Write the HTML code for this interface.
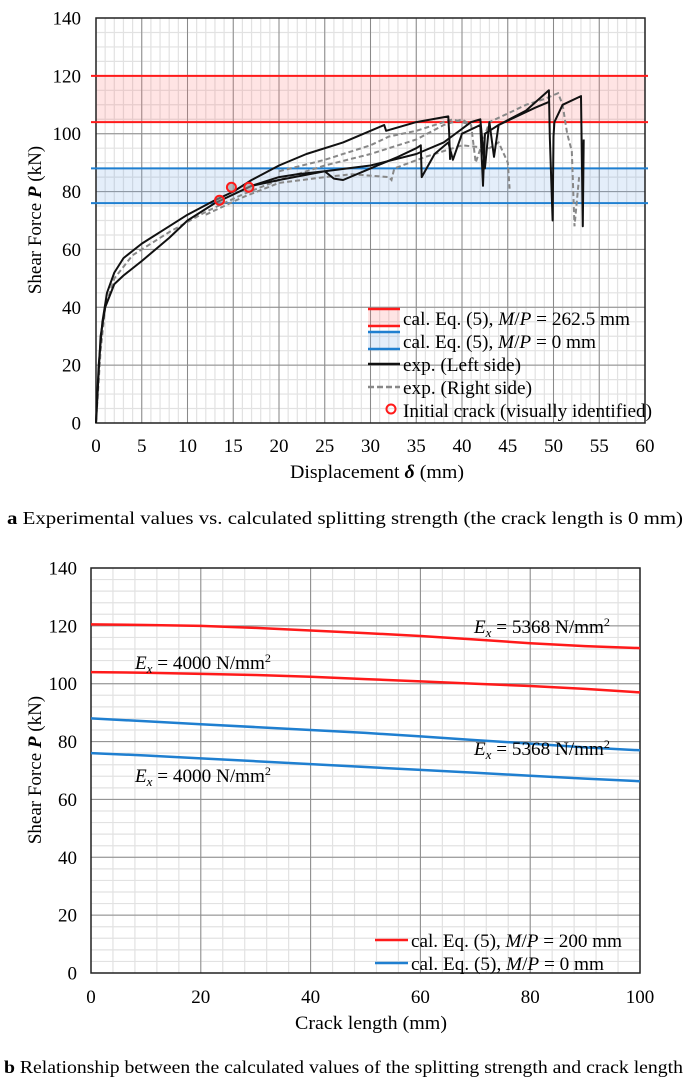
<!DOCTYPE html>
<html><head><meta charset="utf-8">
<style>
html,body{margin:0;padding:0;background:#fff;}
svg{display:block;font-family:"Liberation Serif",serif;}
</style></head>
<body>
<svg id="fig" width="685" height="1080" viewBox="0 0 685 1080" xmlns="http://www.w3.org/2000/svg">
<g id="chartA"></g>
<g id="chartB"></g>
<text x="7" y="524" font-size="17.5" textLength="676" lengthAdjust="spacingAndGlyphs"><tspan font-weight="bold">a</tspan> Experimental values vs. calculated splitting strength (the crack length is 0 mm)</text>
<text x="4" y="1073" font-size="17.5" textLength="679" lengthAdjust="spacingAndGlyphs"><tspan font-weight="bold">b</tspan> Relationship between the calculated values of the splitting strength and crack length</text>
</svg>
<script>
// ---- Chart A data ----
const aXTicks = [0,5,10,15,20,25,30,35,40,45,50,55,60];
const aYTicks = [0,20,40,60,80,100,120,140];
const aBandRed = [104,120];
const aBandBlue = [76,88];
const leftX1 = [0,0.3,0.7,1.2,2,3,5,8,10,13,15,17,20,23,27,30,31.5,31.7,35,38.5,38.6,38.7];
const leftY1 = [0,20,35,45,52,57,62,68,72,77,80,84,89,93,97,101,103,101,104,106,100,91];
const leftX2 = [17,20,22,25,26,27,30,33,35,35.5,35.6,37,38.5,39,40,42,42.3,42.5,44,47,49.5,49.6,49.9,50,50.1,51,53,53.2,53.3];
const leftY2 = [82,85,86,87,84.5,84,88,92,95,96,85,93,97,91,100,103,82,100,103,108,115,99,70,99,104,110,113,68,98];
const leftX3 = [0,0.5,1,2,3,5,8,10,13,17,20,25,30,35,38,41,42,42.5,43,43.5,44,46,48,49.5];
const leftY3 = [0,30,40,48,51,56,64,70,76,82,84,87,89,93,97,104,105,88,104,92,103,106,109,111];
const rightX1 = [0,0.5,1,2,4,8,12,16,20,25,30,35,38,40,41,41.5,43,45,47,49,50.5,51,51.5,52,52.3,52.8];
const rightY1 = [0,25,40,50,58,66,73,79,84,89,93,98,103,105,103,90,104,107,110,112,114,110,100,94,68,85];
const rightX2 = [12,16,20,25,28,32,32.3,32.6,36,40,43,44,45,45.2];
const rightY2 = [72,78,83,85,86,85,84,88,92,96,95,97,90,81];
const rightX3 = [20,25,30,32,35,38,39,40,41];
const rightY3 = [87,91,96,99,101,104,105,104,103];
const crackX = [13.5,14.8,16.7];
const crackY = [77,81.5,81.5];

// ---- Chart B data ----
const bXTicks = [0,20,40,60,80,100];
const bYTicks = [0,20,40,60,80,100,120,140];
const bCrack = [0,10,20,30,40,50,60,70,80,90,100];
const bRedHigh = [120.5,120.3,120,119.3,118.4,117.5,116.5,115.3,114,113,112.3];
const bRedLow = [104,103.8,103.4,103,102.4,101.6,100.8,100,99.2,98.2,97];
const bBlueHigh = [88,87,86,85,84,83,81.8,80.5,79.3,78,77];
const bBlueLow = [76,75.2,74.2,73.2,72.2,71.2,70.2,69.2,68.2,67.2,66.3];

const NS='http://www.w3.org/2000/svg';
function mk(parent,tag,attrs){const e=document.createElementNS(NS,tag);for(const k in attrs)e.setAttribute(k,attrs[k]);parent.appendChild(e);return e;}

function axes(g,L,R,T,B,xmax,ymax,xMinorStep,yMinorStep,xMajor,yMajor){
  const sx=v=>L+(R-L)*v/xmax, sy=v=>B-(B-T)*v/ymax;
  for(let v=0;v<=xmax+1e-9;v+=xMinorStep){const l=mk(g,'line',{x1:sx(v),x2:sx(v),y1:T,y2:B,stroke:'#e2e2e2','stroke-width':1.2});
    
    }
  for(let v=0;v<=ymax+1e-9;v+=yMinorStep){const l=mk(g,'line',{x1:L,x2:R,y1:sy(v),y2:sy(v),stroke:'#e2e2e2','stroke-width':1.2});
    
    }
  xMajor.forEach(v=>{const l=mk(g,'line',{x1:sx(v),x2:sx(v),y1:T,y2:B,stroke:'#8a8a8a','stroke-width':1});
    
    });
  yMajor.forEach(v=>{const l=mk(g,'line',{x1:L,x2:R,y1:sy(v),y2:sy(v),stroke:'#8a8a8a','stroke-width':1});
    
    });
  return {sx,sy};
}
function frame(g,L,R,T,B){const r=mk(g,'rect',{x:L,y:T,width:R-L,height:B-T,fill:'none',stroke:'#222','stroke-width':1.5});
  
  }
function poly(g,xs,ys,sx,sy,attrs,name){const pts=xs.map((x,i)=>sx(x).toFixed(1)+','+sy(ys[i]).toFixed(1)).join(' ');
  const p=mk(g,'polyline',Object.assign({points:pts,fill:'none'},attrs));
  
  return p;}
function tickLabels(g,xt,yt,sx,sy,xy,yx){
  xt.forEach(v=>{const t=mk(g,'text',{x:sx(v),y:xy,'font-size':19,'text-anchor':'middle'});t.textContent=v;
    
    });
  yt.forEach(v=>{const t=mk(g,'text',{x:yx,y:sy(v)+6.5,'font-size':19,'text-anchor':'end'});t.textContent=v;
    
    });
}
function stretch(t,len){t.setAttribute('textLength',len);t.setAttribute('lengthAdjust','spacingAndGlyphs');}

// ---------- Chart A ----------
(function(){
  const g=document.getElementById('chartA');
  const L=96,R=645,T=18,B=423;
  const {sx,sy}=axes(g,L,R,T,B,60,140,1,5,aXTicks,aYTicks);
  const br=mk(g,'rect',{x:L,y:sy(aBandRed[1]),width:R-L,height:sy(aBandRed[0])-sy(aBandRed[1]),fill:'rgba(255,120,120,0.2)'});
  
  
  const bb=mk(g,'rect',{x:L,y:sy(aBandBlue[1]),width:R-L,height:sy(aBandBlue[0])-sy(aBandBlue[1]),fill:'rgba(120,170,230,0.2)'});
  
  
  frame(g,L,R,T,B);
  aBandRed.forEach(v=>{const l=mk(g,'line',{x1:L-5,x2:R+3,y1:sy(v),y2:sy(v),stroke:'#ff1a1a','stroke-width':2});
    
    });
  aBandBlue.forEach(v=>{const l=mk(g,'line',{x1:L-5,x2:R+3,y1:sy(v),y2:sy(v),stroke:'#1f7fd0','stroke-width':2});
    
    });
  const dash={stroke:'#888','stroke-width':2,'stroke-dasharray':'5,3'};
  poly(g,rightX1,rightY1,sx,sy,dash,'exp-right-1');
  poly(g,rightX2,rightY2,sx,sy,dash,'exp-right-2');
  poly(g,rightX3,rightY3,sx,sy,dash,'exp-right-3');
  const solid={stroke:'#111','stroke-width':2,'stroke-linejoin':'round'};
  poly(g,leftX1,leftY1,sx,sy,solid,'exp-left-1');
  poly(g,leftX2,leftY2,sx,sy,solid,'exp-left-2');
  poly(g,leftX3,leftY3,sx,sy,solid,'exp-left-3');
  crackX.forEach((x,i)=>{const c=mk(g,'circle',{cx:sx(x),cy:sy(crackY[i]),r:4.5,fill:'rgba(150,150,150,0.6)',stroke:'#ff1a1a','stroke-width':2});
    
    });
  tickLabels(g,aXTicks,aYTicks,sx,sy,452,81);
  const xt=mk(g,'text',{x:290,y:478,'font-size':19});
  xt.innerHTML='Displacement <tspan font-weight="bold" font-style="italic">δ</tspan> (mm)';
  stretch(xt,174);
  
  
  const yt=mk(g,'text',{x:0,y:0,'font-size':19,'text-anchor':'middle',transform:'translate(41,220) rotate(-90)'});
  yt.innerHTML='Shear Force <tspan font-weight="bold" font-style="italic">P</tspan> (kN)';
  
  
  // legend
  const lg=mk(g,'g',{});
  
  
  const lx1=368,lx2=400;
  mk(lg,'rect',{x:lx1,y:309,width:lx2-lx1,height:17,fill:'rgba(255,120,120,0.2)'});
  mk(lg,'line',{x1:lx1,x2:lx2,y1:309,y2:309,stroke:'#ff1a1a','stroke-width':2.5});
  mk(lg,'line',{x1:lx1,x2:lx2,y1:326,y2:326,stroke:'#ff1a1a','stroke-width':2.5});
  mk(lg,'rect',{x:lx1,y:332,width:lx2-lx1,height:17,fill:'rgba(120,170,230,0.2)'});
  mk(lg,'line',{x1:lx1,x2:lx2,y1:332,y2:332,stroke:'#1f7fd0','stroke-width':2.5});
  mk(lg,'line',{x1:lx1,x2:lx2,y1:349,y2:349,stroke:'#1f7fd0','stroke-width':2.5});
  mk(lg,'line',{x1:lx1,x2:lx2,y1:364,y2:364,stroke:'#111','stroke-width':2.5});
  mk(lg,'line',{x1:lx1,x2:lx2,y1:387,y2:387,stroke:'#888','stroke-width':2.5,'stroke-dasharray':'6,3'});
  mk(lg,'circle',{cx:391,cy:409,r:4.5,fill:'none',stroke:'#ff1a1a','stroke-width':2});
  const rows=[['cal. Eq. (5), <tspan font-style="italic">M</tspan>/<tspan font-style="italic">P</tspan> = 262.5 mm',325,'legend-entry-mp-262',227],
    ['cal. Eq. (5), <tspan font-style="italic">M</tspan>/<tspan font-style="italic">P</tspan> = 0 mm',348,'legend-entry-mp-0',193],
    ['exp. (Left side)',371,'legend-entry-left',118],['exp. (Right side)',394,'legend-entry-right',129],
    ['Initial crack (visually identified)',417,'legend-entry-crack',249]];
  rows.forEach(r=>{const t=mk(lg,'text',{x:403,y:r[1],'font-size':19});t.innerHTML=r[0];
    stretch(t,r[3]);
    
    });
})();

// ---------- Chart B ----------
(function(){
  const g=document.getElementById('chartB');
  const L=91,R=640,T=568,B=973;
  const {sx,sy}=axes(g,L,R,T,B,100,140,4,4,bXTicks,bYTicks);
  frame(g,L,R,T,B);
  const st=c=>({stroke:c,'stroke-width':2.5});
  poly(g,bCrack,bRedHigh,sx,sy,st('#ff1a1a'),'line-red-ex-5368');
  poly(g,bCrack,bRedLow,sx,sy,st('#ff1a1a'),'line-red-ex-4000');
  poly(g,bCrack,bBlueHigh,sx,sy,st('#1f7fd0'),'line-blue-ex-5368');
  poly(g,bCrack,bBlueLow,sx,sy,st('#1f7fd0'),'line-blue-ex-4000');
  const labs=[[474,633,'5368','label-red-5368'],[135,669,'4000','label-red-4000'],[474,755,'5368','label-blue-5368'],[135,782,'4000','label-blue-4000']];
  labs.forEach(a=>{const t=mk(g,'text',{x:a[0],y:a[1],'font-size':19});
    t.innerHTML='<tspan font-style="italic">E</tspan><tspan font-style="italic" font-size="13" dy="4">x</tspan><tspan dy="-4"> = '+a[2]+' N/mm</tspan><tspan font-size="12" dy="-7">2</tspan>';
    stretch(t,136);
    
    });
  tickLabels(g,bXTicks,bYTicks,sx,sy,1003,77);
  const xt=mk(g,'text',{x:295,y:1029,'font-size':19});
  xt.textContent='Crack length (mm)';
  stretch(xt,152);
  
  
  const yt=mk(g,'text',{x:0,y:0,'font-size':19,'text-anchor':'middle',transform:'translate(41,770) rotate(-90)'});
  yt.innerHTML='Shear Force <tspan font-weight="bold" font-style="italic">P</tspan> (kN)';
  
  
  const lg=mk(g,'g',{});
  
  
  mk(lg,'line',{x1:375,x2:408,y1:940,y2:940,stroke:'#ff1a1a','stroke-width':2.5});
  mk(lg,'line',{x1:375,x2:408,y1:963,y2:963,stroke:'#1f7fd0','stroke-width':2.5});
  const t1=mk(lg,'text',{x:411,y:947,'font-size':19});
  t1.innerHTML='cal. Eq. (5), <tspan font-style="italic">M</tspan>/<tspan font-style="italic">P</tspan> = 200 mm';
  stretch(t1,211);
  
  
  const t2=mk(lg,'text',{x:411,y:970,'font-size':19});
  t2.innerHTML='cal. Eq. (5), <tspan font-style="italic">M</tspan>/<tspan font-style="italic">P</tspan> = 0 mm';
  stretch(t2,193);
  
  
})();
</script>
</body></html>
